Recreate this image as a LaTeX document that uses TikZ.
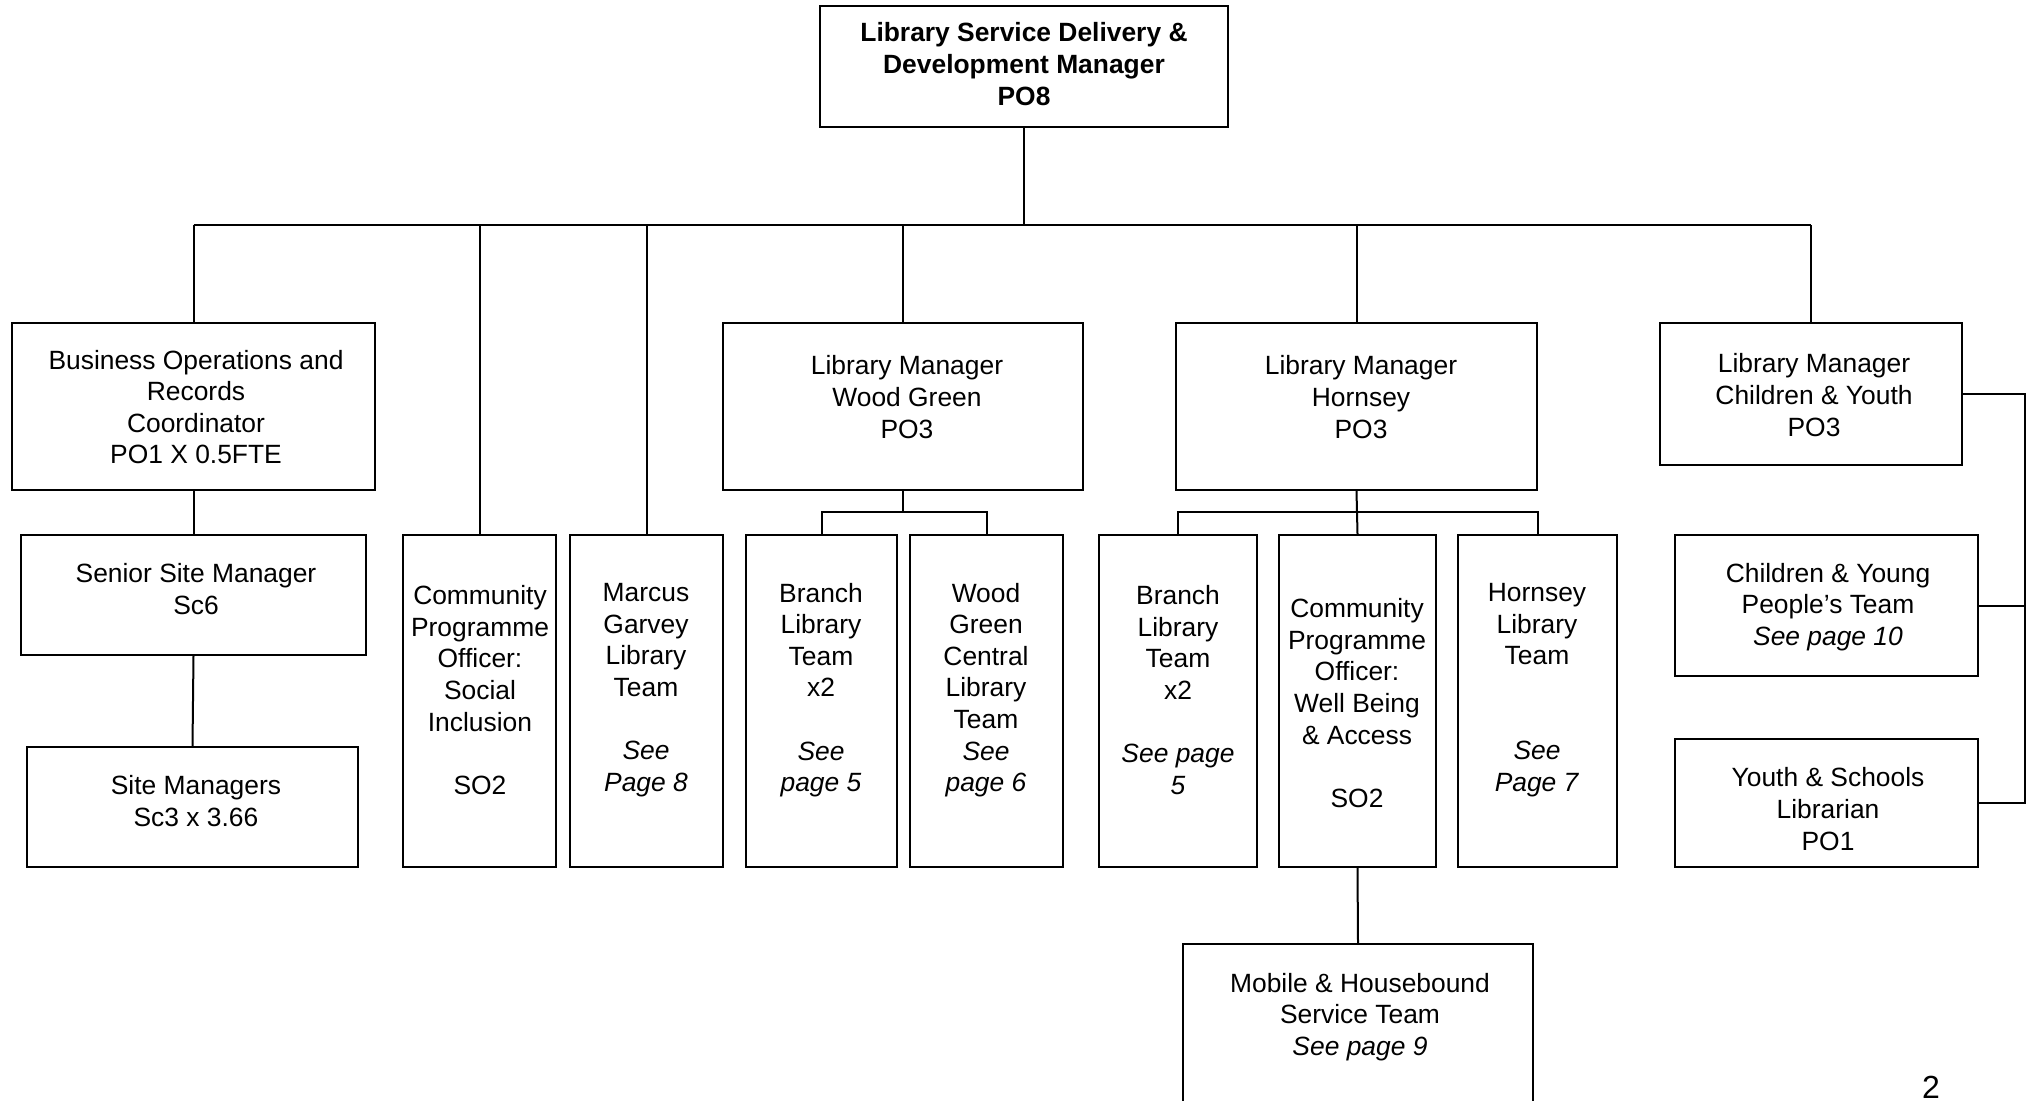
\documentclass[tikz,border=0pt]{standalone}
\usepackage{fontspec}
\setmainfont{Liberation Sans}
\usetikzlibrary{fit}
\begin{document}
\begin{tikzpicture}[x=0.5pt,y=-0.5pt,line width=1pt,
  box/.style={draw,inner sep=0pt,fit={#1}},
  txt/.style={align=center,inner sep=0pt,font=\fontsize{13.2}{15.8}\selectfont}]
\useasboundingbox (0,0) rectangle (2027,1100);
% boxes
\node [box={(820,6)(1228,127)}] (top) {};
\node [box={(12,323)(375,490)}] (busops) {};
\node [box={(21,535)(366,655)}] (senior) {};
\node [box={(27,747)(358,867)}] (sites) {};
\node [box={(403,535)(556,867)}] (cposi) {};
\node [box={(570,535)(723,867)}] (garvey) {};
\node [box={(723,323)(1083,490)}] (lmwg) {};
\node [box={(746,535)(897,867)}] (brwg) {};
\node [box={(910,535)(1063,867)}] (wgc) {};
\node [box={(1176,323)(1537,490)}] (lmh) {};
\node [box={(1099,535)(1257,867)}] (brh) {};
\node [box={(1279,535)(1436,867)}] (cpowb) {};
\node [box={(1458,535)(1617,867)}] (hteam) {};
\node [box={(1183,944)(1533,1110)}] (mobile) {};
\node [box={(1660,323)(1962,465)}] (lmcy) {};
\node [box={(1675,535)(1978,676)}] (cyp) {};
\node [box={(1675,739)(1978,867)}] (ysl) {};
% texts
\node [txt,font=\fontsize{13.2}{15.8}\selectfont\bfseries] (t-top) at (1024,64) {Library Service Delivery \&\\Development Manager\\PO8};
\node [txt] (t-busops) at (196,407) {Business Operations and\\Records\\Coordinator\\PO1 X 0.5FTE};
\node [txt] (t-senior) at (196,589) {Senior Site Manager\\Sc6};
\node [txt] (t-sites) at (196,801) {Site Managers\\Sc3 x 3.66};
\node [txt] (t-cposi) at (480,690) {Community\\Programme\\Officer:\\Social\\Inclusion\\[15.8pt]SO2};
\node [txt] (t-garvey) at (646,690) {Marcus\\Garvey\\Library\\Team\\[15.8pt]\textit{See}\\\textit{Page 8}};
\node [txt] (t-lmwg) at (907,397) {Library Manager\\Wood Green\\PO3};
\node [txt] (t-brwg) at (821,690) {Branch\\Library\\Team\\x2\\[15.8pt]\textit{See}\\\textit{page 5}};
\node [txt] (t-wgc) at (986,690) {Wood\\Green\\Central\\Library\\Team\\\textit{See}\\\textit{page 6}};
\node [txt] (t-lmh) at (1361,397) {Library Manager\\Hornsey\\PO3};
\node [txt] (t-brh) at (1178,690) {Branch\\Library\\Team\\x2\\[15.8pt]\textit{See page}\\\textit{5}};
\node [txt] (t-cpowb) at (1357,703) {Community\\Programme\\Officer:\\Well Being\\\& Access\\[15.8pt]SO2};
\node [txt] (t-hteam) at (1537,690) {Hornsey\\Library\\Team\\[31.6pt]\textit{See}\\\textit{Page 7}};
\node [txt] (t-mobile) at (1360,1017) {Mobile \& Housebound\\Service Team\\\textit{See page 9}};
\node [txt] (t-lmcy) at (1814,395) {Library Manager\\Children \& Youth\\PO3};
\node [txt] (t-cyp) at (1828,607) {Children \& Young\\People’s Team\\\textit{See page 10}};
\node [txt] (t-ysl) at (1828,809) {Youth \& Schools\\Librarian\\PO1};
\node [txt,anchor=north,font=\fontsize{16}{18}\selectfont] (page) at (1931,1075) {2};
% connectors
\coordinate (bus) at (0,225);
\coordinate (wgbus) at (0,512);
\coordinate (hbus) at (0,512);
\coordinate (rail) at (2025,0);
\draw (top.south) -- (top.south |- bus);
\draw (busops.north |- bus) -- (lmcy.north |- bus);
\foreach \n in {busops,cposi,garvey,lmwg,lmh,lmcy}
  \draw (\n.north |- bus) -- (\n.north);
\draw (busops.south) -- (senior.north);
\draw (senior.south) -- (sites.north);
\draw (lmwg.south) -- (lmwg.south |- wgbus);
\draw (brwg.north) -- (brwg.north |- wgbus) -- (wgc.north |- wgbus) -- (wgc.north);
\draw (lmh.south) -- (cpowb.north);
\draw (brh.north) -- (brh.north |- hbus) -- (hteam.north |- hbus) -- (hteam.north);
\draw (cpowb.south) -- (mobile.north);
\draw (lmcy.east) -- (lmcy.east -| rail) -- (ysl.east -| rail) -- (ysl.east);
\draw (cyp.east) -- (cyp.east -| rail);
\end{tikzpicture}
\end{document}
